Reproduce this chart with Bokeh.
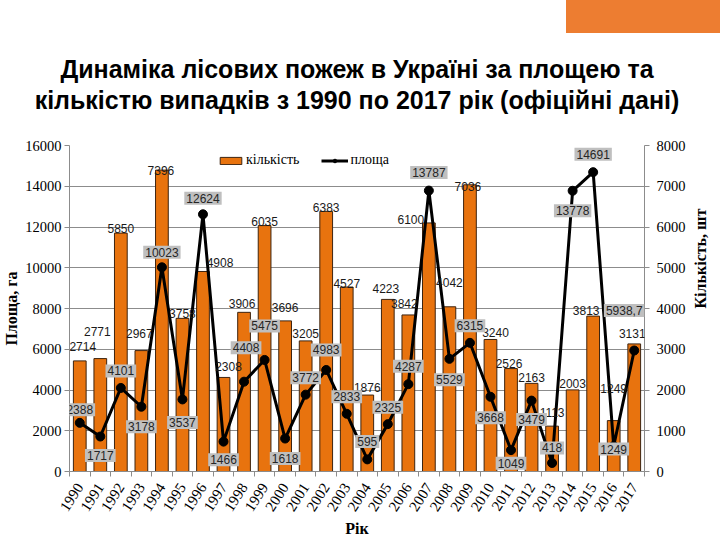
import math
from bokeh.plotting import figure
from bokeh.layouts import column
from bokeh.models import (ColumnDataSource, LinearAxis, Range1d, FixedTicker, LabelSet,
                          Label, Legend, LegendItem, Title, Div)
from bokeh.core.properties import value
from bokeh.embed import file_html
from bokeh.resources import INLINE

# ---------------- data ----------------
years = list(range(1990, 2018))
year_labels = [str(y) for y in years]
fires_count = [2714, 2771, 5850, 2967, 7396, 3758, 4908, 2308, 3906, 6035,
               3696, 3205, 6383, 4527, 1876, 4223, 3842, 6100, 4042, 7036,
               3240, 2526, 2163, 1113, 2003, 3813, 1249, 3131]
fires_area = [2388, 1717, 4101, 3178, 10023, 3537, 12624, 1466, 4408, 5475,
              1618, 3772, 4983, 2833, 595, 2325, 4287, 13787, 5529, 6315,
              3668, 1049, 3479, 418, 13778, 14691, 1249, 5938.7]
area_text = [str(v) for v in fires_area[:-1]] + ["5938,7"]
count_text = [str(v) for v in fires_count]
left_ticks = [0, 2000, 4000, 6000, 8000, 10000, 12000, 14000, 16000]
right_ticks = [0, 1000, 2000, 3000, 4000, 5000, 6000, 7000, 8000]

title_1 = "Динаміка лісових пожеж в Україні за площею та"
title_2 = "кількістю випадків з 1990 по 2017 рік (офіційні дані)"
left_title = "Площа, га"
right_title = "Кількість, шт"
x_title = "Рік"
legend_count = "кількість"
legend_area = "площа"

# ---------------- label placement (screen px) ----------------
bar_lbl_dx = [3, -3, 0, -2, -1, 0, 17, 5, -2, 0, 0, 0, 0, 0, 0, -2, -4, -18,
              0, -2, 5, -2, 0, 0, 0, -7, 0, -2]
bar_lbl_dy = [14, 27, 5, 17, 0, 5, 9, 11, 9, 4, 13, 7, 4, 4, 8, 11, 11, 3,
              24, -2, 7, 5, 6, 14, 6, 6, 32, 10]
area_lbl_dx = [0] * 8 + [2] + [0] * 18 + [-10]
area_lbl_dy = [13, -19, 17, -20, 15, -23, 16, -18, 34, 34, -20, 17, 20, 17,
               18, 17, 18, 18, -21, 17, -21, -13, -19, 15, -20, 18, -3, 40]

GRAY = "#8C8C8C"
SERIF = "Liberation Serif"
SANS = "Liberation Sans"
ORANGE_BAR = "#E8730E"

DIV_H = 33
p = figure(width=720, height=540 - DIV_H,
           x_range=Range1d(1989.5, 2017.5), y_range=Range1d(0, 16000),
           min_border_left=67, min_border_right=64, min_border_top=145 - DIV_H,
           min_border_bottom=69, output_backend="svg", toolbar_location=None)
p.outline_line_color = None
p.extra_y_ranges = {"cnt": Range1d(0, 8000)}

xa = p.below[0]   # the year axis
ya = p.left[0]    # area axis

# title: second line carried by a tick-less axis above the frame, first line by a Title
ta = LinearAxis(ticker=FixedTicker(ticks=[]), axis_label=title_2)
ta.axis_line_color = None
ta.major_tick_line_color = None
ta.minor_tick_line_color = None
ta.major_tick_out = 0
ta.minor_tick_out = 0
ta.axis_label_text_font = SANS
ta.axis_label_text_font_style = "bold"
ta.axis_label_text_font_size = "25px"
ta.axis_label_text_color = "black"
ta.axis_label_standoff = 32
p.add_layout(ta, "above")
p.add_layout(Title(text=title_1, align="center", text_font=SANS,
                   text_font_style="bold", text_font_size="25px", text_color="black",
                   standoff=0), "above")

# left axis
ya.ticker = FixedTicker(ticks=left_ticks)
ya.axis_line_color = GRAY
ya.major_tick_line_color = GRAY
ya.major_tick_out = 5
ya.major_tick_in = 0
ya.minor_tick_line_color = None
ya.major_label_text_font = SERIF
ya.major_label_text_font_size = "14.5px"
ya.major_label_text_color = "black"
ya.major_label_standoff = 3
ya.axis_label = left_title
ya.axis_label_text_font = SERIF
ya.axis_label_text_font_style = "bold"
ya.axis_label_text_font_size = "16px"
ya.axis_label_text_color = "black"
ya.axis_label_standoff = 2

# right axis
ra = LinearAxis(y_range_name="cnt", ticker=FixedTicker(ticks=right_ticks))
ra.axis_line_color = GRAY
ra.major_tick_line_color = GRAY
ra.major_tick_out = 5
ra.major_tick_in = 0
ra.minor_tick_line_color = None
ra.major_label_text_font = SERIF
ra.major_label_text_font_size = "14.5px"
ra.major_label_text_color = "black"
ra.major_label_standoff = 7
ra.axis_label = right_title
ra.axis_label_text_font = SERIF
ra.axis_label_text_font_style = "bold"
ra.axis_label_text_font_size = "16px"
ra.axis_label_text_color = "black"
ra.axis_label_standoff = 12
ra.axis_label_orientation = math.pi / 2
p.add_layout(ra, "right")

# x axis
xa.ticker = FixedTicker(ticks=years, minor_ticks=[1989.5 + i for i in range(29)])
xa.major_label_overrides = {y: s for y, s in zip(years, year_labels)}
xa.axis_line_color = GRAY
xa.major_tick_line_color = None
xa.major_tick_out = 0
xa.major_tick_in = 0
xa.minor_tick_line_color = GRAY
xa.minor_tick_out = 5
xa.minor_tick_in = 0
xa.major_label_orientation = 1.0
xa.major_label_text_font = SERIF
xa.major_label_text_font_size = "15px"
xa.major_label_text_color = "black"
xa.major_label_standoff = 8
xa.axis_label = x_title
xa.axis_label_text_font = SERIF
xa.axis_label_text_font_style = "bold"
xa.axis_label_text_font_size = "16px"
xa.axis_label_text_color = "black"
xa.axis_label_standoff = 2

p.xgrid.visible = False
p.ygrid.ticker = FixedTicker(ticks=left_ticks)
p.ygrid.grid_line_color = GRAY
p.ygrid.grid_line_width = 1

src = ColumnDataSource(dict(year=years, count=fires_count, area=fires_area,
                            count_txt=count_text, bdx=bar_lbl_dx, bdy=bar_lbl_dy))

bars = p.vbar(x="year", top="count", bottom=0, width=0.62, y_range_name="cnt",
              source=src, fill_color=ORANGE_BAR, line_color="#3d2410", line_width=1)
line = p.line(x="year", y="area", source=src, line_color="black", line_width=3)
pts = p.scatter(x="year", y="area", source=src, size=9, fill_color="black",
                line_color="black")

bar_labels = LabelSet(x="year", y="count", y_range_name="cnt", text="count_txt",
                      x_offset="bdx", y_offset="bdy", source=src,
                      text_align="center", text_baseline="middle",
                      text_font=value(SANS), text_font_size="12px",
                      text_color="#1a1a1a")
p.add_layout(bar_labels)

for yr, v, t, ox, oy in zip(years, fires_area, area_text, area_lbl_dx, area_lbl_dy):
    p.add_layout(Label(x=yr, y=v, text=t, x_offset=ox, y_offset=oy,
                       text_align="center", text_baseline="middle",
                       text_font=SANS, text_font_size="12px", text_color="#262626",
                       background_fill_color="#BFBFBF", background_fill_alpha=1.0,
                       padding=2))

legend = Legend(items=[LegendItem(label=legend_count, renderers=[bars]),
                       LegendItem(label=legend_area, renderers=[line, pts])],
                orientation="horizontal", location=(148, 303),
                label_text_font=SERIF, label_text_font_size="14px",
                label_text_color="black", glyph_width=27, glyph_height=9,
                label_height=15, label_standoff=2, spacing=22, padding=2,
                margin=0, background_fill_alpha=0, border_line_color=None)
p.add_layout(legend)

# decorative orange block (top-right of the slide)
deco = Div(text="", width=154, height=DIV_H, margin=(0, 0, 0, 566),
           styles={"background-color": "#ED7D31"})

layout = column(deco, p, spacing=0)
open("out.html", "w").write(file_html(layout, INLINE))
